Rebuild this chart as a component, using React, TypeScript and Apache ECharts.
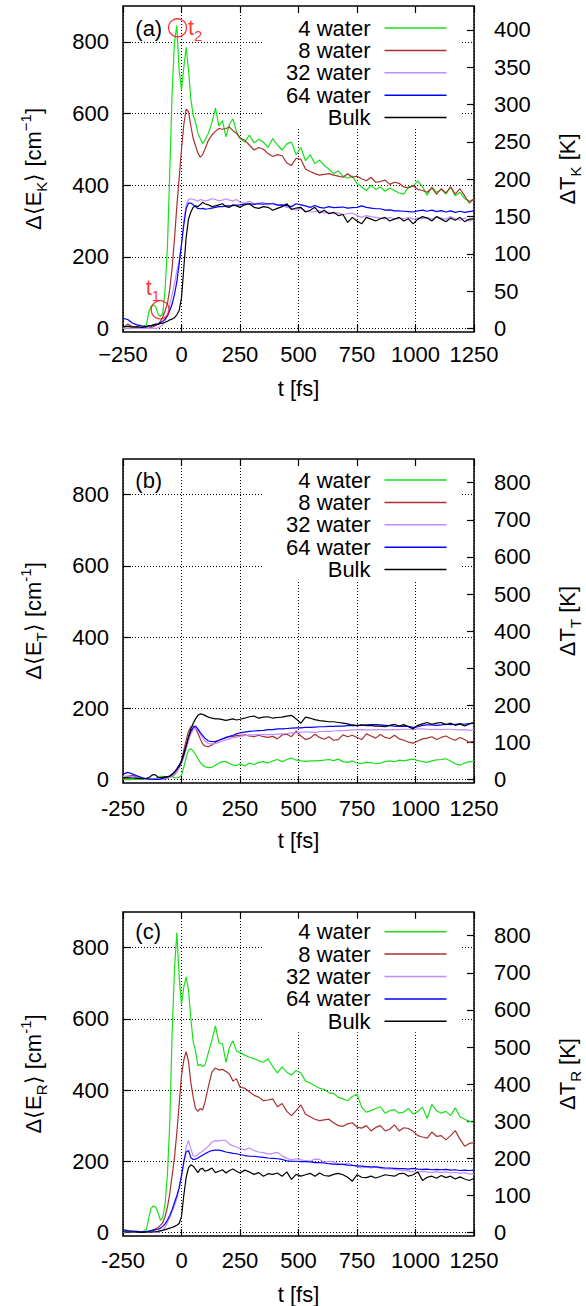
import React, { useEffect, useRef } from 'react';
import * as echarts from 'echarts';

// ---------------- data ----------------
const times = [-250,-230,-210,-190,-170,-150,-140,-130,-120,-110,-100,-90,-80,-70,-60,-50,-40,-30,-20,-10,0,10,20,30,40,50,60,70,80,90,100,115,130,145,160,175,190,205,220,235,250,270,290,310,330,350,370,390,410,430,450,470,490,510,530,550,570,590,610,630,650,670,690,710,730,750,770,790,810,830,850,870,890,910,930,950,970,990,1010,1030,1050,1070,1090,1110,1130,1150,1170,1190,1210,1230,1250];

const seriesNames = ['4 water', '8 water', '32 water', '64 water', 'Bulk'];

// (a) kinetic energy
const kin4 = [2,0,3,0,2,10,
  45,62,66,60,40,33,42,110,230,440,660,800,845,720,665,730,785,720,640,595,575,545,530,516,525,
  545,575,615,565,580,535,570,585,550,530,
  520,540,518,528,520,505,530,512,498,515,520,485,505,468,485,460,470,455,445,432,440,425,420,425,405,395,385,400,388,395,383,392,385,378,375,395,398,412,395,372,395,380,388,375,395,370,380,362,356,360];
const kin8 = [0,12,5,2,0,2,
  0,3,5,8,12,20,32,50,70,110,170,250,340,420,500,570,612,605,565,530,510,490,478,485,500,
  525,540,550,558,556,558,562,552,545,532,
  525,512,498,505,500,488,480,485,482,462,455,475,472,445,438,432,428,430,432,428,425,422,432,422,425,418,412,422,408,410,414,402,408,405,395,392,398,388,385,380,392,375,390,378,395,375,390,370,350,362];
const kin32 = [0,0,0,0,0,0,
  0,0,0,0,2,5,10,20,40,65,95,125,160,190,235,300,345,360,362,360,358,355,360,358,356,
  358,362,360,356,358,362,358,356,360,352,
  350,355,348,350,352,345,350,346,343,338,335,330,335,328,325,326,328,322,325,320,323,318,320,322,315,310,315,312,310,308,306,310,305,308,306,310,305,308,306,310,305,312,308,305,312,306,302,308,300,305];
const kin64 = [28,25,15,10,7,5,
  6,8,9,10,12,16,20,26,35,50,68,95,130,180,235,290,335,350,350,345,340,335,334,335,333,
  334,336,338,340,340,342,342,343,344,345,
  347,348,346,348,347,348,348,344,345,343,340,348,345,342,338,343,338,336,340,337,338,339,336,337,338,342,338,336,334,334,330,331,328,328,327,326,325,328,330,327,330,326,329,325,328,324,327,324,326,328];
const kinBulk = [5,6,4,5,3,5,
  8,7,10,12,12,14,15,17,20,24,26,30,38,50,85,170,255,305,325,338,342,340,345,352,348,
  345,340,342,345,348,340,338,345,342,338,
  345,348,338,335,340,338,330,335,340,348,332,336,338,325,330,338,322,330,320,324,315,318,296,310,300,292,310,305,300,306,310,300,305,310,300,306,292,305,312,308,300,312,305,298,308,302,310,298,305,306];

// (b) translational energy
const tra4 = [0,0,0,0,0,0,
  0,0,1,2,6,9,9,8,8,9,8,5,4,6,12,35,62,82,86,80,70,58,48,40,36,
  33,34,40,46,50,50,45,40,39,44,
  38,46,42,48,50,46,52,56,50,56,60,54,52,51,52,52,53,54,56,53,57,50,48,52,46,45,48,47,44,46,50,52,50,54,52,55,57,53,50,48,52,55,56,58,52,44,40,46,50,50];
const tra8 = [3,8,12,6,3,2,
  0,0,0,0,0,0,1,2,3,6,9,13,22,35,55,82,110,135,148,150,144,130,114,100,94,
  92,97,104,110,114,117,120,121,123,124,
  125,122,120,124,120,118,121,114,125,127,120,136,122,112,116,127,118,113,120,110,112,125,120,124,118,112,128,122,116,126,118,115,124,114,110,105,102,108,114,116,120,112,118,122,115,110,118,112,104,108];
const tra32 = [8,10,8,5,2,0,
  0,0,0,0,0,0,1,2,3,6,10,14,22,32,45,62,85,108,128,140,145,138,128,117,108,
  101,99,101,104,108,111,114,117,119,121,
  123,125,125,126,126,126,126,127,128,129,131,131,133,134,133,132,134,135,135,136,137,137,138,139,139,140,139,139,140,140,139,140,140,140,141,141,140,142,142,141,140,141,140,141,141,140,139,140,138,139];
const tra64 = [15,20,16,10,5,2,
  1,0,0,0,0,1,3,5,7,10,15,21,30,40,52,72,95,118,135,146,150,142,132,124,116,
  108,106,107,110,114,118,121,124,128,131,
  133,135,136,137,138,140,140,142,142,143,144,145,145,146,146,147,148,148,149,149,150,150,151,151,151,152,153,154,154,153,152,151,150,149,150,149,146,148,152,153,153,152,153,155,154,155,156,155,157,158];
const traBulk = [4,5,4,3,2,3,
  5,10,14,12,6,5,6,7,7,9,14,20,28,36,50,70,95,120,142,158,170,180,184,183,180,
  175,172,170,170,168,166,168,170,167,169,
  172,176,178,172,175,176,172,174,175,178,180,170,158,175,172,168,165,164,162,162,160,158,156,153,152,153,151,152,150,150,148,152,155,150,154,148,142,152,156,160,155,158,160,154,158,152,156,150,156,160];

// (c) rotational energy
const rot4 = [2,1,0,0,1,8,
  40,68,74,71,55,34,42,80,165,310,560,740,842,720,640,690,718,680,600,535,510,468,472,466,470,
  505,540,580,532,530,478,520,538,510,505,
  498,492,488,482,478,488,466,448,465,450,442,455,448,425,420,412,405,402,392,390,380,375,370,382,388,352,338,342,348,353,335,342,345,335,338,348,332,340,352,320,360,342,335,340,328,350,325,318,312,308];
const rot8 = [0,0,0,0,0,0,
  2,5,8,10,14,20,28,45,72,110,160,210,280,360,440,485,508,480,420,380,348,340,348,344,365,
  410,450,462,456,458,452,445,425,432,408,
  405,395,385,380,370,372,375,353,362,340,328,342,358,332,325,318,314,316,318,308,300,298,305,308,296,293,300,285,295,300,285,290,302,285,294,292,284,272,268,265,282,270,272,260,272,286,262,242,250,252];
const rot32 = [0,0,0,0,0,0,
  0,0,0,0,0,2,8,15,28,42,60,75,95,125,155,195,240,258,235,215,214,219,224,228,234,
  242,254,258,257,259,258,248,243,240,236,
  232,237,230,226,224,220,222,225,215,208,204,207,204,202,200,206,205,197,200,198,193,191,194,190,185,181,184,181,184,180,178,179,177,175,174,172,170,169,172,170,168,171,168,170,167,169,166,168,164,166];
const rot64 = [8,5,4,3,2,3,
  4,5,6,8,9,12,17,24,35,48,64,84,103,125,160,200,226,230,210,205,206,209,213,217,221,
  226,230,231,231,229,226,224,222,221,219,
  216,214,214,212,211,209,208,207,205,201,200,200,199,199,198,196,196,195,193,192,191,191,189,188,187,186,185,184,184,183,181,181,180,179,179,178,180,178,177,178,176,177,176,177,175,176,174,175,174,175];
const rotBulk = [2,1,2,1,0,1,
  2,1,2,2,3,5,6,8,10,12,14,17,20,25,45,105,155,182,190,186,178,168,178,180,172,
  175,181,168,172,176,167,174,178,172,167,
  175,170,163,168,158,165,163,167,158,170,149,163,158,162,166,158,167,160,158,163,166,162,155,144,162,155,154,158,153,157,162,160,158,165,166,158,162,170,146,155,158,152,160,154,158,150,156,150,146,152];

// tick values
const xTickInterval = 250;
const leftTicks = [0, 200, 400, 600, 800];
const rightTicksA = [0, 50, 100, 150, 200, 250, 300, 350, 400];
const rightTicksBC = [0, 100, 200, 300, 400, 500, 600, 700, 800];

// annotations in panel (a)
const annotT = [-17, -91];
const annotV = [839, 52];
const annotSub = ['2', '1'];

// ---------------- styling / layout ----------------
const FONT = '"Liberation Sans", Arial, Helvetica, sans-serif';
const colors = ['#18e018', '#a83030', '#c08cff', '#0000ff', '#000000'];
const panelData = [
  [kin4, kin8, kin32, kin64, kinBulk],
  [tra4, tra8, tra32, tra64, traBulk],
  [rot4, rot8, rot32, rot64, rotBulk],
];
const panels = [
  { top: 6, height: 326, legendTop: 15, xMargin: 11, xTitleY: 388.3, minus: '\u2212', supMinus: '\u2212', rMin: -4.8, rMax: 432, rTicks: rightTicksA, sub: 'K', letter: '(a)' },
  { top: 459, height: 324, legendTop: 467, xMargin: 14, xTitleY: 840.7, minus: '-', supMinus: '-', rMin: -9.6, rMax: 864, rTicks: rightTicksBC, sub: 'T', letter: '(b)' },
  { top: 912, height: 324, legendTop: 918.7, xMargin: 13, xTitleY: 1294, minus: '-', supMinus: '-', rMin: -9.6, rMax: 864, rTicks: rightTicksBC, sub: 'R', letter: '(c)' },
];
const GL = 123, GW = 351;

function makeRich(color: string) {
  return {
    n: { fontSize: 22, lineHeight: 30, fontFamily: FONT, color, verticalAlign: 'middle' },
    sub: { fontSize: 15, height: 14, lineHeight: 30, padding: [16, 0, 0, 0], fontFamily: FONT, color, verticalAlign: 'bottom' },
    sup: { fontSize: 15, height: 14, lineHeight: 30, padding: [0, 0, 16, 0], fontFamily: FONT, color, verticalAlign: 'top' },
  };
}

function buildOption() {
  const tickLine = { color: '#000', width: 1.2 };
  const dotted = { color: '#000', width: 1, type: [1, 2] };
  const labelBase = { fontSize: 22, color: '#000', fontFamily: FONT };
  const grid: any[] = [];
  const xAxis: any[] = [];
  const yAxis: any[] = [];
  const legend: any[] = [];
  const series: any[] = [];
  const graphic: any[] = [];
  const richBlack = makeRich('#000');
  const richRed = makeRich('#ff0000');

  panels.forEach((p, i) => {
    grid.push({ left: GL, width: GW, top: p.top, height: p.height, show: true, borderColor: '#000', borderWidth: 1.5, backgroundColor: 'transparent' });
    xAxis.push({
      gridIndex: i, type: 'value', position: 'bottom', min: -250, max: 1250, interval: xTickInterval,
      axisLine: { show: false, onZero: false },
      axisTick: { show: true, inside: true, length: 7, lineStyle: tickLine },
      axisLabel: { ...labelBase, margin: p.xMargin, formatter: (v: number) => (v < 0 ? p.minus + Math.abs(v) : String(v)) },
      splitLine: { show: true, lineStyle: dotted },
    });
    xAxis.push({
      gridIndex: i, type: 'value', position: 'top', min: -250, max: 1250, interval: xTickInterval,
      axisLine: { show: false, onZero: false },
      axisTick: { show: true, inside: true, length: 7, lineStyle: tickLine },
      axisLabel: { show: false },
      splitLine: { show: false },
    });
    yAxis.push({
      gridIndex: i, type: 'value', position: 'left', min: -10, max: 900,
      axisLine: { show: false, onZero: false },
      axisTick: { show: true, inside: true, length: 8, lineStyle: tickLine, customValues: leftTicks },
      axisLabel: { ...labelBase, margin: 14, customValues: leftTicks },
      splitLine: { show: true, lineStyle: dotted },
    });
    yAxis.push({
      gridIndex: i, type: 'value', position: 'right', min: p.rMin, max: p.rMax,
      axisLine: { show: false, onZero: false },
      axisTick: { show: true, inside: true, length: 7, lineStyle: tickLine, customValues: p.rTicks },
      axisLabel: { ...labelBase, margin: 20, customValues: p.rTicks },
      splitLine: { show: false },
    });
    legend.push({
      data: seriesNames, orient: 'vertical', right: 125, top: p.legendTop, align: 'right',
      icon: 'rect', itemWidth: 62, itemHeight: 1.5, itemGap: 0.4, padding: [2, 14.5, 0, 24],
      backgroundColor: '#fff', selectedMode: false,
      textStyle: { fontSize: 22, lineHeight: 22, fontFamily: FONT, color: '#000', padding: [0, 9, 0, 0] },
    });
    panelData[i].forEach((vals, k) => {
      series.push({
        type: 'line', name: seriesNames[k], xAxisIndex: i * 2, yAxisIndex: i * 2,
        data: times.map((t, j) => [t, vals[j]]),
        symbol: 'none', showSymbol: false, silent: true,
        lineStyle: { color: colors[k], width: 1.2 }, itemStyle: { color: colors[k] },
      });
    });
    graphic.push({ type: 'text', x: 135.3, y: p.legendTop + 13, style: { text: p.letter, font: `22px ${FONT}`, fill: '#000', align: 'left', verticalAlign: 'middle' } });
    graphic.push({
      type: 'text', x: 33, y: p.top + p.height / 2, rotation: Math.PI / 2,
      style: { text: `{n|Δ⟨E}{sub|${p.sub}}{n|⟩ [cm}{sup|${p.supMinus}1}{n|]}`, rich: richBlack, align: 'center', verticalAlign: 'middle' },
    });
    graphic.push({
      type: 'text', x: 567, y: p.top + p.height / 2, rotation: Math.PI / 2,
      style: { text: `{n|ΔT}{sub|${p.sub}}{n| [K]}`, rich: richBlack, align: 'center', verticalAlign: 'middle' },
    });
    graphic.push({ type: 'text', x: GL + GW / 2, y: p.xTitleY, style: { text: 't [fs]', font: `22px ${FONT}`, fill: '#000', align: 'center', verticalAlign: 'middle' } });
  });

  const annotOffsets = [[17.7, 0], [-7.3, -22.5]];
  series.push({
    type: 'scatter', name: 'markers', xAxisIndex: 0, yAxisIndex: 0, silent: true, z: 5,
    symbol: 'circle', symbolSize: 18,
    itemStyle: { color: 'rgba(0,0,0,0)', borderColor: '#ff0000', borderWidth: 1.3 },
    data: annotT.map((t, j) => ({
      value: [t, annotV[j]],
      label: { show: true, position: 'inside', offset: annotOffsets[j], formatter: `{n|t}{sub|${annotSub[j]}}`, rich: richRed },
    })),
  });

  return { animation: false, backgroundColor: '#fff', grid, xAxis, yAxis, legend, series, graphic };
}

export default function App() {
  const ref = useRef<HTMLDivElement>(null);
  useEffect(() => {
    const chart = echarts.init(ref.current!, null, { renderer: 'svg' });
    chart.setOption(buildOption() as any);
    return () => chart.dispose();
  }, []);
  return <div ref={ref} style={{ position: 'absolute', left: 0, top: 0, width: 586, height: 1306, background: '#fff' }} />;
}
